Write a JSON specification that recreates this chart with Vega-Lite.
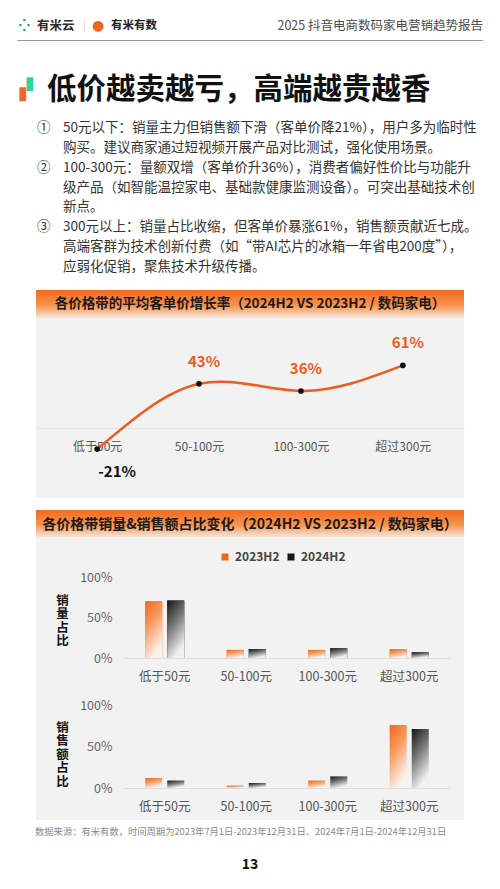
{
  "$schema": "https://vega.github.io/schema/vega-lite/v6.json",
  "background": "white",
  "padding": {"left": 17, "top": 12, "right": 0, "bottom": 0},
  "bounds": "flush",
  "center": true,
  "spacing": 0,
  "config": {
    "font": "Noto Sans CJK SC",
    "view": {"stroke": null},
    "axis": {"labelFont": "Noto Sans CJK SC", "titleFont": "Noto Sans CJK SC"},
    "legend": {"labelFont": "Noto Sans CJK SC"},
    "title": {"font": "Noto Sans CJK SC"},
    "locale": {"number": {"decimal": ".", "thousands": ",", "grouping": [3], "currency": ["$", ""], "minus": "-"}}
  },
  "resolve": {"scale": {"color": "independent", "x": "independent", "y": "independent"}, "legend": {"color": "independent"}},
  "datasets": {
    "bullets": [
      {"line": 1, "num": "①", "text": "50元以下：销量主力但销售额下滑（客单价降21%），用户多为临时性"},
      {"line": 2, "num": "", "text": "购买。建议商家通过短视频开展产品对比测试，强化使用场景。"},
      {"line": 3, "num": "②", "text": "100-300元：量额双增（客单价升36%），消费者偏好性价比与功能升"},
      {"line": 4, "num": "", "text": "级产品（如智能温控家电、基础款健康监测设备）。可突出基础技术创"},
      {"line": 5, "num": "", "text": "新点。"},
      {"line": 6, "num": "③", "text": "300元以上：销量占比收缩，但客单价暴涨61%，销售额贡献近七成。"},
      {"line": 7, "num": "", "text": "高端客群为技术创新付费（如“带AI芯片的冰箱一年省电200度”），"},
      {"line": 8, "num": "", "text": "应弱化促销，聚焦技术升级传播。"}
    ],
    "growth": [
      {"band": "低于50元", "growth": -0.21},
      {"band": "50-100元", "growth": 0.43},
      {"band": "100-300元", "growth": 0.36},
      {"band": "超过300元", "growth": 0.61}
    ],
    "share": [
      {"metric": "销量", "band": "低于50元", "series": "2023H2", "value": 0.70},
      {"metric": "销量", "band": "低于50元", "series": "2024H2", "value": 0.71},
      {"metric": "销量", "band": "50-100元", "series": "2023H2", "value": 0.10},
      {"metric": "销量", "band": "50-100元", "series": "2024H2", "value": 0.11},
      {"metric": "销量", "band": "100-300元", "series": "2023H2", "value": 0.10},
      {"metric": "销量", "band": "100-300元", "series": "2024H2", "value": 0.12},
      {"metric": "销量", "band": "超过300元", "series": "2023H2", "value": 0.11},
      {"metric": "销量", "band": "超过300元", "series": "2024H2", "value": 0.07},
      {"metric": "销售额", "band": "低于50元", "series": "2023H2", "value": 0.12},
      {"metric": "销售额", "band": "低于50元", "series": "2024H2", "value": 0.09},
      {"metric": "销售额", "band": "50-100元", "series": "2023H2", "value": 0.03},
      {"metric": "销售额", "band": "50-100元", "series": "2024H2", "value": 0.06},
      {"metric": "销售额", "band": "100-300元", "series": "2023H2", "value": 0.09},
      {"metric": "销售额", "band": "100-300元", "series": "2024H2", "value": 0.14},
      {"metric": "销售额", "band": "超过300元", "series": "2023H2", "value": 0.76},
      {"metric": "销售额", "band": "超过300元", "series": "2024H2", "value": 0.71}
    ]
  },
  "vconcat": [
    {
      "width": 466, "height": 28,
      "layer": [
        {
          "data": {"values": [{"t": "2025 抖音电商数码家电营销趋势报告"}]},
          "mark": {"type": "text", "align": "right", "baseline": "middle", "fontSize": 12.5, "color": "#4d4d4d"},
          "encoding": {
            "x": {"datum": 1, "type": "quantitative", "scale": {"domain": [0, 1]}, "axis": {"labels": false, "ticks": false, "grid": false, "domain": true, "domainColor": "#9a9a9a", "domainWidth": 1, "title": null}},
            "text": {"field": "t"}
          }
        },
        {
          "data": {"values": [{"t": "⁘"}]},
          "mark": {"type": "text", "align": "left", "baseline": "middle", "font": "DejaVu Sans", "fontSize": 15, "fontWeight": "bold", "color": "#2aa57a", "dx": 1},
          "encoding": {"x": {"datum": 0, "type": "quantitative"}, "text": {"field": "t"}}
        },
        {
          "data": {"values": [{"t": "有米云"}]},
          "mark": {"type": "text", "align": "left", "baseline": "middle", "fontSize": 12.5, "fontWeight": "bold", "color": "#2b2b2b", "dx": 20},
          "encoding": {"x": {"datum": 0, "type": "quantitative"}, "text": {"field": "t"}}
        },
        {
          "data": {"values": [{"t": "|"}]},
          "mark": {"type": "text", "align": "left", "baseline": "middle", "fontSize": 11, "color": "#cccccc", "dx": 66},
          "encoding": {"x": {"datum": 0, "type": "quantitative"}, "text": {"field": "t"}}
        },
        {
          "data": {"values": [{"t": "●"}]},
          "mark": {"type": "text", "align": "left", "baseline": "middle", "font": "DejaVu Sans", "fontSize": 14, "color": "#f2641f", "dx": 75},
          "encoding": {"x": {"datum": 0, "type": "quantitative"}, "text": {"field": "t"}}
        },
        {
          "data": {"values": [{"t": "有米有数"}]},
          "mark": {"type": "text", "align": "left", "baseline": "middle", "fontSize": 11.5, "fontWeight": "bold", "color": "#222222", "dx": 94},
          "encoding": {"x": {"datum": 0, "type": "quantitative"}, "text": {"field": "t"}}
        }
      ]
    },
    {
      "width": 466, "height": 78,
      "encoding": {"x": {"datum": 0, "type": "quantitative", "scale": {"domain": [0, 1]}, "axis": null}},
      "layer": [
        {
          "data": {"values": [{"t": "▮"}]},
          "mark": {"type": "text", "align": "left", "baseline": "middle", "font": "DejaVu Sans", "fontSize": 18, "color": "#f0642a", "dx": 1, "dy": 15},
          "encoding": {"text": {"field": "t"}}
        },
        {
          "data": {"values": [{"t": "▮"}]},
          "mark": {"type": "text", "align": "left", "baseline": "middle", "font": "DejaVu Sans", "fontSize": 18, "color": "#2fd3a0", "dx": 8, "dy": 5},
          "encoding": {"text": {"field": "t"}}
        }
      ]
    },
    {
      "width": 466, "height": 159,
      "title": {"text": "低价越卖越亏，高端越贵越香", "anchor": "start", "fontSize": 29.5, "fontWeight": "bold", "color": "#111111", "dx": 30, "offset": 13},
      "data": {"name": "bullets"},
      "encoding": {
        "x": {"datum": 0, "type": "quantitative", "scale": {"domain": [0, 1]}, "axis": null},
        "y": {"field": "line", "type": "ordinal", "scale": {"type": "point", "padding": 0.5}, "axis": null}
      },
      "layer": [
        {
          "mark": {"type": "text", "align": "left", "baseline": "middle", "fontSize": 13.5, "color": "#333333", "dx": 20},
          "encoding": {"text": {"field": "num"}}
        },
        {
          "mark": {"type": "text", "align": "left", "baseline": "middle", "fontSize": 13.5, "color": "#333333", "dx": 46},
          "encoding": {"text": {"field": "text"}}
        }
      ]
    },
    {
      "width": 466, "height": 13,
      "data": {"values": [{}]},
      "mark": {"type": "text"},
      "encoding": {"text": {"value": ""}}
    },
    {
      "width": 428, "height": 28,
      "view": {"stroke": null, "fill": {"gradient": "linear", "x1": 0, "y1": 0, "x2": 0, "y2": 1, "stops": [{"offset": 0, "color": "#f26a1e"}, {"offset": 0.55, "color": "#f6934f"}, {"offset": 1, "color": "#f5e6da"}]}},
      "data": {"values": [{"t": "各价格带的平均客单价增长率（2024H2 VS 2023H2 / 数码家电）"}]},
      "mark": {"type": "text", "baseline": "middle", "fontSize": 13.5, "fontWeight": "bold", "color": "#1a1a1a"},
      "encoding": {"text": {"field": "t"}}
    },
    {
      "width": 428, "height": 180,
      "view": {"stroke": null, "fill": "#f2f2f2"},
      "data": {"name": "growth"},
      "encoding": {
        "x": {"field": "band", "type": "nominal", "sort": null, "scale": {"type": "point", "padding": 0.6},
              "axis": {"orient": "bottom", "offset": -70, "title": null, "ticks": false, "grid": false, "domainColor": "#e2e2e2", "labelFontSize": 12, "labelColor": "#555555", "labelPadding": 13, "labelAngle": 0}},
        "y": {"field": "growth", "type": "quantitative", "scale": {"domain": [-0.689, 1.075], "nice": false, "zero": false}, "axis": null}
      },
      "layer": [
        {"mark": {"type": "line", "interpolate": "natural", "color": "#f15a1d", "strokeWidth": 2.5}},
        {"mark": {"type": "point", "filled": true, "color": "#111111", "size": 32, "opacity": 1}},
        {
          "transform": [{"filter": "datum.growth >= 0"}],
          "mark": {"type": "text", "dy": -22, "dx": 5, "fontSize": 15, "fontWeight": "bold", "color": "#f15a1d"},
          "encoding": {"text": {"field": "growth", "format": ".0%"}}
        },
        {
          "transform": [{"filter": "datum.growth < 0"}],
          "mark": {"type": "text", "dy": 23, "dx": 20, "fontSize": 15, "fontWeight": "bold", "color": "#111111"},
          "encoding": {"text": {"field": "growth", "format": ".0%"}}
        }
      ]
    },
    {
      "width": 466, "height": 12,
      "data": {"values": [{}]},
      "mark": {"type": "text"},
      "encoding": {"text": {"value": ""}}
    },
    {
      "width": 428, "height": 27,
      "view": {"stroke": null, "fill": {"gradient": "linear", "x1": 0, "y1": 0, "x2": 0, "y2": 1, "stops": [{"offset": 0, "color": "#f26a1e"}, {"offset": 0.55, "color": "#f6934f"}, {"offset": 1, "color": "#f5e6da"}]}},
      "data": {"values": [{"t": "各价格带销量&销售额占比变化（2024H2 VS 2023H2 / 数码家电）"}]},
      "mark": {"type": "text", "baseline": "middle", "fontSize": 14, "fontWeight": "bold", "color": "#1a1a1a", "dy": 1},
      "encoding": {"text": {"field": "t"}}
    },
    {
      "width": 428, "height": 153,
      "view": {"stroke": null, "fill": "#f2f2f2"},
      "data": {"name": "share"},
      "transform": [{"filter": "datum.metric == '销量'"}],
      "encoding": {
        "x": {"field": "band", "type": "nominal", "sort": null, "scale": {"range": [88, 414], "paddingInner": 0.52, "paddingOuter": 0.26},
              "axis": {"orient": "bottom", "offset": -32, "title": null, "ticks": false, "grid": false, "domainColor": "#dedede", "labelFontSize": 12.5, "labelColor": "#555555", "labelPadding": 12, "labelAngle": 0}},
        "xOffset": {"field": "series", "type": "nominal", "scale": {"domain": ["2023H2", "2024H2"], "paddingInner": 0.227}},
        "y": {"field": "value", "type": "quantitative", "scale": {"domain": [0, 1], "range": [121, 40], "nice": false},
              "axis": {"orient": "left", "offset": -87, "values": [0, 0.5, 1], "format": ".0%", "domain": false, "ticks": false, "grid": false, "labelFontSize": 12.5, "labelColor": "#666666", "labelPadding": 11,
                       "title": ["销", "量", "占", "比"], "titleAngle": 0, "titleFontSize": 12.5, "titleFontWeight": "bold", "titleColor": "#111111", "titleX": -61, "titleY": 63, "titleAlign": "center", "titleBaseline": "middle", "titleLineHeight": 13.5}}
      },
      "layer": [
        {
          "mark": {"type": "bar"},
          "encoding": {
            "color": {"field": "series", "type": "nominal", "scale": {"domain": ["2023H2", "2024H2"], "range": ["#f4661b", "#151515"]},
                      "legend": {"orient": "none", "legendX": 183, "legendY": 14, "direction": "horizontal", "title": null, "symbolType": "square", "symbolSize": 49, "symbolStrokeWidth": 0, "labelFontSize": 12, "labelFontWeight": "bold", "labelColor": "#444444", "columnPadding": 5, "labelOffset": 4}}
          }
        },
        {
          "transform": [{"filter": "datum.series == '2023H2'"}],
          "mark": {"type": "bar", "color": {"gradient": "linear", "x1": 0, "y1": 0, "x2": 0.4, "y2": 1, "stops": [{"offset": 0, "color": "#f4661b"}, {"offset": 0.45, "color": "#f79a5e"}, {"offset": 1, "color": "#fdf1ea"}]}}
        },
        {
          "transform": [{"filter": "datum.series == '2024H2'"}],
          "mark": {"type": "bar", "color": {"gradient": "linear", "x1": 0, "y1": 0, "x2": 0.4, "y2": 1, "stops": [{"offset": 0, "color": "#151515"}, {"offset": 0.5, "color": "#7a7a7a"}, {"offset": 1, "color": "#f0f0f0"}]}}
        }
      ]
    },
    {
      "width": 428, "height": 130,
      "view": {"stroke": null, "fill": "#f2f2f2"},
      "data": {"name": "share"},
      "transform": [{"filter": "datum.metric == '销售额'"}],
      "encoding": {
        "x": {"field": "band", "type": "nominal", "sort": null, "scale": {"range": [88, 414], "paddingInner": 0.52, "paddingOuter": 0.26},
              "axis": {"orient": "bottom", "offset": -32, "title": null, "ticks": false, "grid": false, "domainColor": "#dedede", "labelFontSize": 12.5, "labelColor": "#555555", "labelPadding": 12, "labelAngle": 0}},
        "xOffset": {"field": "series", "type": "nominal", "scale": {"domain": ["2023H2", "2024H2"], "paddingInner": 0.227}},
        "y": {"field": "value", "type": "quantitative", "scale": {"domain": [0, 1], "range": [98, 15], "nice": false},
              "axis": {"orient": "left", "offset": -87, "values": [0, 0.5, 1], "format": ".0%", "domain": false, "ticks": false, "grid": false, "labelFontSize": 12.5, "labelColor": "#666666", "labelPadding": 11,
                       "title": ["销", "售", "额", "占", "比"], "titleAngle": 0, "titleFontSize": 12.5, "titleFontWeight": "bold", "titleColor": "#111111", "titleX": -61, "titleY": 37, "titleAlign": "center", "titleBaseline": "middle", "titleLineHeight": 13.5}}
      },
      "layer": [
        {
          "transform": [{"filter": "datum.series == '2023H2'"}],
          "mark": {"type": "bar", "color": {"gradient": "linear", "x1": 0, "y1": 0, "x2": 0.4, "y2": 1, "stops": [{"offset": 0, "color": "#f4661b"}, {"offset": 0.45, "color": "#f79a5e"}, {"offset": 1, "color": "#fdf1ea"}]}}
        },
        {
          "transform": [{"filter": "datum.series == '2024H2'"}],
          "mark": {"type": "bar", "color": {"gradient": "linear", "x1": 0, "y1": 0, "x2": 0.4, "y2": 1, "stops": [{"offset": 0, "color": "#151515"}, {"offset": 0.5, "color": "#7a7a7a"}, {"offset": 1, "color": "#f0f0f0"}]}}
        }
      ]
    },
    {
      "width": 428, "height": 24,
      "data": {"values": [{"t": "数据来源：有米有数，时间周期为2023年7月1日-2023年12月31日、2024年7月1日-2024年12月31日"}]},
      "mark": {"type": "text", "align": "left", "baseline": "middle", "fontSize": 9.3, "color": "#8a8a8a", "dx": -1},
      "encoding": {"x": {"datum": 0, "type": "quantitative", "scale": {"domain": [0, 1]}, "axis": null}, "text": {"field": "t"}}
    },
    {
      "width": 428, "height": 42,
      "data": {"values": [{"t": "13"}]},
      "mark": {"type": "text", "baseline": "middle", "fontSize": 14, "fontWeight": "bold", "color": "#111111"},
      "encoding": {"text": {"field": "t"}}
    }
  ]
}
